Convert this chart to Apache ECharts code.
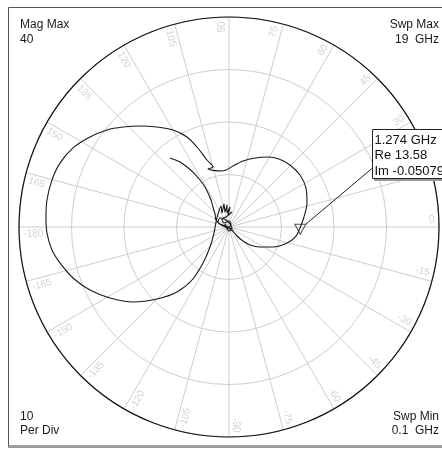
<!DOCTYPE html>
<html><head><meta charset="utf-8">
<script src="https://cdn.jsdelivr.net/npm/echarts@6/dist/echarts.min.js"></script>
<style>html,body{margin:0;padding:0;background:#fff}#c{width:442px;height:449px}</style>
</head><body><div id="c"></div>
<script>
// ---- data ----
const magMax = 40;
const perDiv = 10;
const sweepMin = '0.1  GHz';
const sweepMax = '19  GHz';
// trace: magnitude and phase (degrees), in sweep order
const traceMag = [17.29,15.5,13.95,12.26,10.52,8.88,7.61,6.18,4.88,3.64,2.81,1.81,0.6,0.54,
  2.29,3.77,5.27,7.03,9.2,11.46,12.88,13.58,14.41,15.54,16.44,16.76,16.57,16.08,15.26,14.04,12.85,11.64,10.87,
  10.77,11.75,11.83,13.43,16.41,18.92,21.33,23.47,25.64,27.76,29.69,31.54,33.3,34.42,34.88,35.05,34.91,
  34.69,34.0,32.91,31.26,29.07,26.4,23.2,19.39,15.86,12.31,8.46,5.26,3.08,2.65,
  3.24,4.28,2.98,4.48,2.96,4.21,2.69,3.81,2.29,2.91,1.99,2.02,1.22,1.14,0.54,0.43,0.95,0.76,0.69,0.6,1.45,2.42,2.3,1.16,0.43];
const tracePhase = [130.5,127.0,125.0,123.0,121.7,121.0,121.7,123.7,128.7,137.1,151.7,161.6,161.6,-45,
  -48.4,-45,-40.6,-32.8,-24.4,-15.4,-7.7,-0.2,7.6,17.1,26.9,36.2,45.5,53.7,60.9,69.4,78.0,86.2,93.0,
  98.1,109.9,104.9,108.2,111.8,115.0,120.0,125.8,131.4,136.7,141.5,147.1,153.1,159.3,165.1,171.6,176.9,
  -178.1,-172.6,-168.0,-161.9,-155.6,-149.2,-142.0,-135,-128.7,-124.9,-125.8,-133.5,-158.2,159.0,
  130.2,110.9,116.6,102.3,104.9,95.2,98.1,87.1,94.8,78.7,106.7,131.2,141.3,90,45,-153.4,143.1,-90,-33.7,71.6,113.2,135,155.6,170.5,-63.4];
const markerFreq = '1.274 GHz';
const markerRe = 13.58;
const markerIm = -0.05079;
const angleTicks = [0,15,30,45,60,75,90,105,120,135,150,165,180,-165,-150,-135,-120,-105,-90,-75,-60,-45,-30,-15];
const angleTickLabels = ['0','15','30','45','60','75','90','105','120','135','150','165','-180','-165','-150','-135','-120','-105','-90','-75','-60','-45','-30','-15'];

// ---- chart ----
const chart = echarts.init(document.getElementById('c'), null, {renderer:'canvas'});
const markerMag = Math.sqrt(markerRe*markerRe + markerIm*markerIm);
const markerPhase = Math.atan2(markerIm, markerRe) * 180 / Math.PI;
const labelR = magMax * 0.98;
const labelData = angleTicks.map((a, i) => {
  const right = Math.abs(a) <= 90;
  const rot = right ? a : (a > 0 ? a - 180 : a + 180);
  return { value: [labelR, a + 2], label: { formatter: angleTickLabels[i], rotate: rot, align: right ? 'right' : 'left' } };
});
const txt = (text, x, y, align, size) => ({ type:'text', z:50, style:{ text, x, y, fill:'#1a1a1a', font: (size||12)+'px "Liberation Sans", Arial, sans-serif', textAlign: align, align: align, textVerticalAlign:'top', verticalAlign:'top' } });

chart.setOption({
  animation: false,
  backgroundColor: '#fff',
  polar: { center: [229, 227], radius: 210 },
  angleAxis: {
    type: 'value', min: -180, max: 180, interval: 15, startAngle: 180, clockwise: false,
    axisLine: { show: true, lineStyle: { color: '#111', width: 1.2 } },
    axisTick: { show: false }, axisLabel: { show: false },
    splitLine: { show: true, lineStyle: { color: '#cdcdcd', width: 1 } }
  },
  radiusAxis: {
    type: 'value', min: 0, max: magMax, interval: perDiv,
    axisLine: { show: false }, axisTick: { show: false }, axisLabel: { show: false },
    splitLine: { show: true, lineStyle: { color: '#cdcdcd', width: 1 } }
  },
  series: [
    { type: 'scatter', coordinateSystem: 'polar', silent: true, symbolSize: 0, z: 1,
      label: { show: true, position: 'inside', color: '#c8c8c8', fontSize: 10, fontFamily: '"Liberation Sans", Arial, sans-serif', verticalAlign: 'middle' },
      data: labelData },
    { type: 'line', coordinateSystem: 'polar', showSymbol: false, symbol: 'none', smooth: 0.3, z: 3,
      lineStyle: { color: '#1a1a1a', width: 1.1 },
      data: traceMag.map((m, i) => [m, tracePhase[i]]) },
    { type: 'scatter', coordinateSystem: 'polar', z: 4,
      symbol: 'path://M0,0 L10,0 L5,9 Z', symbolSize: [11, 10], symbolOffset: [0, 2],
      itemStyle: { color: 'rgba(255,255,255,0)', borderColor: '#222', borderWidth: 1 },
      data: [[markerMag, markerPhase]] }
  ],
  graphic: [
    { type: 'rect', z: 40, silent: true, shape: { x: 8.5, y: 7.5, width: 440, height: 438.5 }, style: { fill: 'none', stroke: '#555', lineWidth: 1 } },
    { type: 'line', z: 40, silent: true, shape: { x1: 8, y1: 447, x2: 442, y2: 447 }, style: { stroke: '#999', lineWidth: 2 } },
    txt('Mag Max', 20, 18.5, 'left'),
    txt(String(magMax), 20, 34, 'left'),
    txt('Swp Max', 439, 18.5, 'right'),
    txt(sweepMax, 439, 34, 'right'),
    txt(String(perDiv), 20, 411, 'left'),
    txt('Per Div', 20, 425, 'left'),
    txt('Swp Min', 439, 411, 'right'),
    txt(sweepMin, 439, 425, 'right'),
    { type: 'rect', z: 44, silent: true, shape: { x: 374, y: 131, width: 80, height: 50 }, style: { fill: '#9a9a9a' } },
    { type: 'rect', z: 45, silent: true, shape: { x: 372.5, y: 129.5, width: 80, height: 49 }, style: { fill: '#fff', stroke: '#222', lineWidth: 1 } },
    { type: 'text', z: 46, style: { text: markerFreq + '\nRe ' + markerRe.toFixed(2) + '\nIm ' + markerIm.toFixed(5), x: 374.5, y: 132.5, fill: '#111',
      font: '13px "Liberation Sans", Arial, sans-serif', lineHeight: 15.5, textAlign:'left', align:'left', textVerticalAlign:'top', verticalAlign:'top' } }
  ]
});
let p = null;
try { p = chart.convertToPixel({ seriesIndex: 2 }, [markerMag, markerPhase]); } catch (e) { p = null; }
if (!p || isNaN(p[0])) { p = [229 + markerMag * 5.25, 227]; }
chart.setOption({ graphic: [{ id: 'leader', type: 'line', z: 30, silent: true, shape: { x1: 372.5, y1: 168, x2: p[0] + 5.5, y2: p[1] - 3 }, style: { stroke: '#222', lineWidth: 1 } }] });
</script>
</body></html>
